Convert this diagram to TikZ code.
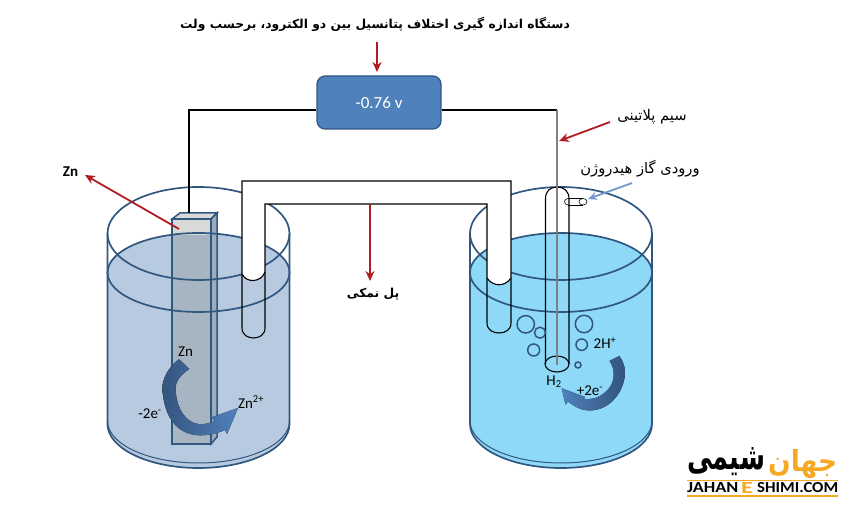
\documentclass[tikz,border=0pt]{standalone}
\usepackage{fontspec}
\setmainfont{Carlito}
\newfontfamily\arabicfont[Script=Arabic]{DejaVu Sans}
\TeXXeTstate=1
\usetikzlibrary{backgrounds}
\usetikzlibrary{arrows.meta}
\definecolor{glass}{HTML}{2F5780}
\definecolor{waterzn}{HTML}{B8CADF}
\definecolor{waterh}{HTML}{8FD9F8}
\definecolor{meterblue}{HTML}{4F81BD}
\definecolor{redarrow}{HTML}{B01C22}
\definecolor{logoorange}{HTML}{F7A823}
\tikzset{
  glassline/.style={draw=glass,line width=1.7pt},
  wire/.style={draw=black,line width=1.1pt},
  redpointer/.style={draw=redarrow,line width=1.8pt,-{Stealth[length=10pt,width=9pt]}},
  label/.style={inner sep=0pt,font=\fontsize{15}{17}\selectfont},
  farsi/.style={inner sep=0pt,font=\arabicfont\fontsize{14.7}{17}\selectfont},
  farsibold/.style={inner sep=0pt,font=\arabicfont\bfseries\fontsize{12.3}{15}\selectfont},
  logoline/.style={draw=logoorange,line width=1.6pt},
}
\begin{document}
\begin{tikzpicture}[x=1pt,y=-1pt]
\useasboundingbox (0,0) rectangle (865,510);

\coordinate (wireL) at (189,110);
\coordinate (wireR) at (557,110);
\coordinate (elecTop) at (189,213);
\coordinate (wireEnd) at (557,365);

% Draw the water, the electrode goes on top of it
\begin{pgfonlayer}{background}
  \foreach \cx/\col in {198.5/waterzn,561/waterh}{
    \fill [color=\col] (\cx-91,272.5) arc [start angle=180,end angle=360,x radius=91,y radius=39.5]
      -- (\cx+91,424) arc [start angle=0,end angle=180,x radius=91,y radius=44] -- cycle;
  }
  \filldraw [fill=black!15,draw=glass,line width=1.5pt] (172,219) -- (180,213) -- (217,213) -- (211,219) -- cycle;
  \filldraw [fill=waterzn!85!black,draw=glass,line width=1.5pt] (211,219) -- (217,213) -- (217,437) -- (211,444) -- cycle;
  \fill [color=black!15] (172,219) rectangle (211,236);
  \fill [color=waterzn!70!gray] (172,235) rectangle (211,444);
  \draw [glassline,line width=1.5pt] (172,219) rectangle (211,444);
\end{pgfonlayer}

% Draw both beakers
\foreach \cx in {198.5,561}{
  \draw [glassline] (\cx,233.5) ellipse [x radius=91,y radius=46.5];
  \draw [glassline] (\cx,272.5) ellipse [x radius=91,y radius=39.5];
  \draw [glassline] (\cx-91,233.5) -- (\cx-91,424) arc [start angle=180,end angle=0,x radius=91,y radius=44] -- (\cx+91,233.5);
  \draw [glassline,line width=1pt] (\cx-91,421) arc [start angle=180,end angle=0,x radius=91,y radius=42];
}

% Draw the salt bridge, white above the liquid
\fill [white] (242,181) -- (511,181) -- (511,278) .. controls (505,287) and (493,287) .. (487,278)
  -- (487,204) -- (265,204) -- (265,272) .. controls (261,283) and (246,283) .. (242,274) -- cycle;
\draw [wire] (511,278) .. controls (505,287) and (493,287) .. (487,278);
\draw [wire] (265,272) .. controls (261,283) and (246,283) .. (242,274);
\draw [wire] (242,181) -- (511,181) -- (511,323) .. controls (511,330) and (505,333) .. (499,333)
  .. controls (493,333) and (487,330) .. (487,323) -- (487,204) -- (265,204) -- (265,328)
  .. controls (265,335) and (259,338) .. (253.5,338) .. controls (248,338) and (242,335) .. (242,328) -- cycle;

% Draw the hydrogen electrode
\draw [wire] (545.5,364) -- (545.5,199) .. controls (545.5,191) and (550,187) .. (557,187)
  .. controls (564,187) and (569,191) .. (569,199) -- (569,364);
\draw [wire] (557,364) ellipse [x radius=12,y radius=8];
\draw [wire,line width=0.6pt] (568,198.5) -- (583,198.5) (568,205) -- (583,205);
\draw [wire,line width=0.6pt] (568,198.5) arc [start angle=270,end angle=90,x radius=3.5,y radius=3.25];
\draw [wire,line width=0.6pt] (583,201.75) ellipse [x radius=4,y radius=3.25];

% Bubbles
\foreach \bx/\by/\br in {525.7/324.3/8.7,540/332.7/5.5,533.7/350/6,584/324/8.7,581.7/344.7/5.7,578/365/3}{
  \draw [glassline,line width=1.5pt] (\bx,\by) circle (\br);
}

% Draw the meter and its wires
\node [draw=glass,line width=1.2pt,fill=meterblue,rounded corners=8pt,minimum width=124pt,minimum height=53pt,
  text=white,inner sep=0pt,font=\fontsize{17}{19}\selectfont] (meter) at (379,102.5) {-0.76 v};
\draw [wire] (elecTop) -- (wireL) -- (wireL -| meter.west);
\draw [wire] (wireL -| meter.east) -- (wireR);
\draw [draw=black!50,line width=1.1pt] (wireR) -- (wireEnd);

% The curved arrows
\fill [left color=meterblue!65!black,right color=meterblue] (179,359.3) .. controls (165,370) and (160,385) .. (163,395)
  .. controls (166,421) and (180,435) .. (200,435.3) .. controls (210,435.3) and (218,433) .. (225,430)
  -- (227,434) -- (238,408) -- (211,417.5) -- (215,421) .. controls (208,424) and (203,424.5) .. (198,424)
  .. controls (186,422) and (177,410) .. (175.5,390) .. controls (175,382) and (180,375) .. (189.3,369) -- cycle;
\fill [left color=meterblue,right color=meterblue!65!black] (609.5,361) .. controls (615,368) and (615,380) .. (610,387)
  .. controls (604,395) and (596,400) .. (584,399) -- (585,397) -- (561.7,388.3) -- (565.5,404.5) -- (568,401.5)
  .. controls (575,407) and (582,410.5) .. (590,410.5) .. controls (607,410) and (621,397) .. (624.5,378)
  .. controls (626,370) and (624,362) .. (619.3,356) -- cycle;

% Labels of the Latin text
\node [label] (znTop) at (185.5,352) {Zn};
\node [label] (minusTwo) at (150,414) {-2e\textsuperscript{-}};
\node [label] (znIon) at (251,402) {Zn\textsuperscript{2+}};
\node [label] (hIon) at (605,343) {2H\textsuperscript{+}};
\node [label] (hTwo) at (554,382) {H\textsubscript{2}};
\node [label] (plusTwo) at (590,391) {+2e\textsuperscript{-}};
\node [label,font=\bfseries\fontsize{15}{17}\selectfont] (znName) at (70.5,172) {Zn};

% Labels of the Farsi text
\node [farsibold] (meterText) at (375,24) {\beginR دستگاه اندازه گیری اختلاف پتانسیل بین دو الکترود، برحسب ولت\endR};
\node [farsi] (wireText) at (652,117) {\beginR سیم پلاتینی\endR};
\node [farsi] (gasText) at (640,169) {\beginR ورودی گاز هیدروژن\endR};
\node [farsibold] (bridgeText) at (373,294) {\beginR پل نمکی\endR};

% The pointers
\coordinate (meterFrom) at (377,42);
\coordinate (meterTo) at (377,72);
\coordinate (wireFrom) at (610,122);
\coordinate (wireTo) at (559,141);
\coordinate (znFrom) at (179,229);
\coordinate (znTo) at (85,175);
\coordinate (bridgeFrom) at (370,204);
\coordinate (bridgeTo) at (370,281);
\coordinate (gasFrom) at (632,183);
\coordinate (gasTo) at (588,199);
\draw [redpointer] (meterFrom) -- (meterTo);
\draw [redpointer] (wireFrom) -- (wireTo);
\draw [redpointer] (znFrom) -- (znTo);
\draw [redpointer] (bridgeFrom) -- (bridgeTo);
\draw [draw=meterblue!80!white,line width=1.8pt,-{Stealth[length=9pt,width=8pt]}] (gasFrom) -- (gasTo);

% The logo
\draw [logoline] (687,480.5) -- (838,480.5);
\draw [logoline] (687,496) -- (838,496);
\node [inner sep=0pt,anchor=west] (logoFa) at (687,461.5) {\resizebox{78pt}{22pt}{\arabicfont\bfseries\beginR شیمی\endR}};
\node [inner sep=0pt,anchor=west,text=logoorange] (logoJahan) at (768,464) {\resizebox{69pt}{22pt}{\arabicfont\bfseries\beginR جهان\endR}};
\node [inner sep=0pt,anchor=west] (logoA) at (687,488) {\resizebox{51pt}{10pt}{\bfseries JAHAN}};
\node [inner sep=0pt,anchor=west,text=logoorange] (logoE) at (741,488) {\resizebox{12pt}{11pt}{\bfseries E}};
\node [inner sep=0pt,anchor=west] (logoB) at (757,488) {\resizebox{81pt}{10pt}{\bfseries SHIMI.COM}};

\end{tikzpicture}
\end{document}
